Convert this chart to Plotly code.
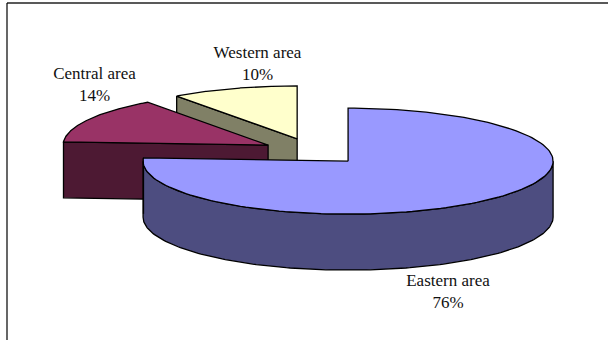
import numpy as np
import plotly.graph_objects as go

# Regional shares, in percent
areas = ["Eastern area", "Central area", "Western area"]
shares = [76, 14, 10]

top_colors = ["#9999FF", "#993366", "#FFFFCC"]
side_colors = ["#4D4D80", "#4D1933", "#808066"]

# Projection of the tilted disc on the page
CENTER = (313.0, 151.5)
RX, RY = 205.0, 53.0
DEPTH = 56.0
EXPLODE = 0.25


def project(cx, cy, deg):
    rad = np.radians(deg)
    return cx + RX * np.sin(rad), cy - RY * np.cos(rad)


def polygon(x, y, fill):
    return go.Scatter(
        x=list(x), y=list(y), mode="lines", fill="toself", fillcolor=fill,
        line=dict(color="#000000", width=1.3), hoverinfo="skip", showlegend=False,
    )


fig = go.Figure()

edges = np.concatenate([[0], np.cumsum(shares) * 3.6])
centers = []
for i in range(len(shares)):
    mid = (edges[i] + edges[i + 1]) / 2
    dx, dy = project(0, 0, mid)
    centers.append((CENTER[0] + EXPLODE * dx, CENTER[1] + EXPLODE * dy))

# Painted back to front: western, central, eastern
for i in [2, 1, 0]:
    cx, cy = centers[i]
    a0, a1 = edges[i], edges[i + 1]
    arc = np.linspace(a0, a1, 160)
    ax, ay = project(cx, cy, arc)

    if i == 0:
        # Outer rim along the front half of the disc
        rim = np.linspace(90, 270, 160)
        rx_, ry_ = project(cx, cy, rim)
        fig.add_trace(polygon(
            np.r_[rx_, rx_[::-1], rx_[0]],
            np.r_[ry_, ry_[::-1] + DEPTH, ry_[0]],
            side_colors[i],
        ))
        # Corner at the end of the arc carries the wall down
        ex, ey = project(cx, cy, a1)
        fig.add_trace(go.Scatter(
            x=[ex, ex], y=[ey, ey + DEPTH], mode="lines",
            line=dict(color="#000000", width=1.3), hoverinfo="skip", showlegend=False,
        ))
    else:
        # Cut face that looks toward the viewer
        ex, ey = project(cx, cy, a0)
        fig.add_trace(polygon(
            [ex, cx, cx, ex, ex],
            [ey, cy, cy + DEPTH, ey + DEPTH, ey],
            side_colors[i],
        ))

    fig.add_trace(polygon(np.r_[cx, ax, cx], np.r_[cy, ay, cy], top_colors[i]))

# Category and percentage captions
label_pos = [(448, 293), (94.5, 86), (257.5, 65)]
fig.add_trace(go.Scatter(
    x=[p[0] for p in label_pos], y=[p[1] for p in label_pos], mode="text",
    text=[f"{n}<br>{v}%" for n, v in zip(areas, shares)],
    textposition="middle center",
    textfont=dict(family="Liberation Serif", size=17, color="#111111"),
    hoverinfo="skip", showlegend=False,
))

fig.update_layout(
    width=608, height=340, margin=dict(l=0, r=0, t=0, b=0),
    paper_bgcolor="#FFFFFF", plot_bgcolor="#FFFFFF",
    xaxis=dict(range=[0, 608], visible=False, fixedrange=True),
    yaxis=dict(range=[340, 0], visible=False, fixedrange=True),
    shapes=[
        dict(type="line", xref="x", yref="y", x0=7, y0=3, x1=608, y1=3,
             line=dict(color="#222222", width=1.5)),
        dict(type="line", xref="x", yref="y", x0=7, y0=3, x1=7, y1=340,
             line=dict(color="#000000", width=1.2)),
    ],
)

fig.write_html("out.html")
